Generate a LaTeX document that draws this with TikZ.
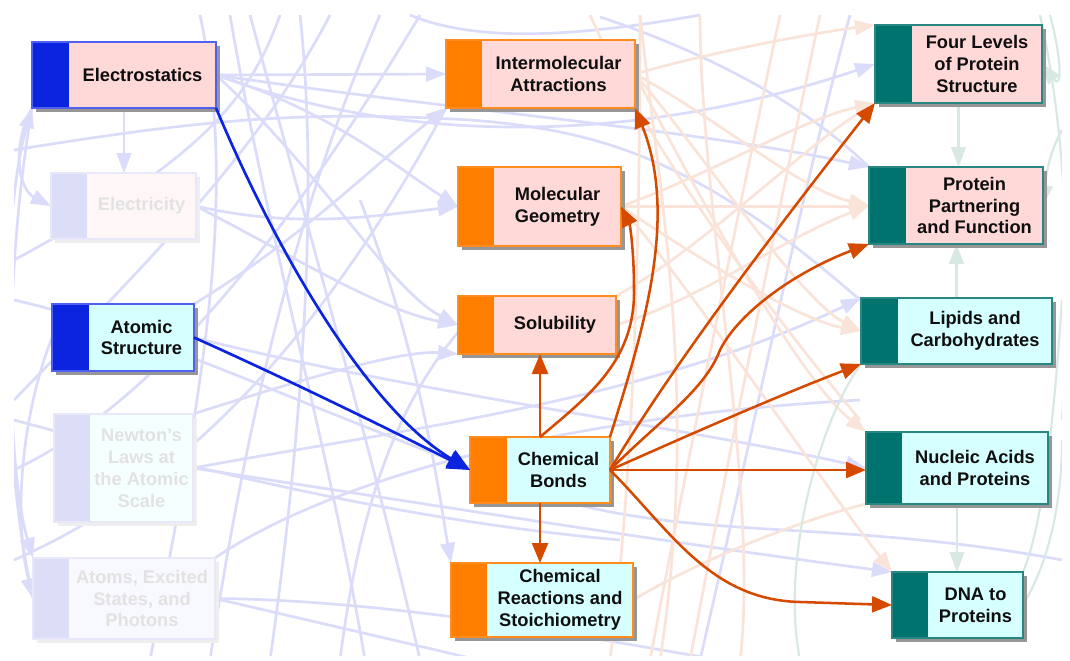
\documentclass[tikz,border=0pt]{standalone}
\usepackage{fontspec}
\setmainfont{Liberation Sans}
\usetikzlibrary{arrows.meta,shadows,fit}
\definecolor{barB}{RGB}{10,36,224}
\definecolor{bdB}{RGB}{80,96,240}
\definecolor{barO}{RGB}{255,126,0}
\definecolor{bdO}{RGB}{255,140,30}
\definecolor{barT}{RGB}{0,115,110}
\definecolor{bdT}{RGB}{40,135,130}
\definecolor{barF}{RGB}{220,222,248}
\definecolor{bdF}{RGB}{232,232,250}
\definecolor{txB}{RGB}{15,15,15}
\definecolor{txO}{RGB}{15,15,15}
\definecolor{txT}{RGB}{15,15,15}
\definecolor{txF}{RGB}{226,226,226}
\definecolor{shB}{RGB}{150,150,150}
\definecolor{shO}{RGB}{150,150,150}
\definecolor{shT}{RGB}{150,150,150}
\definecolor{shF}{RGB}{238,238,238}
\definecolor{pinkF}{RGB}{255,216,216}
\definecolor{cyanF}{RGB}{214,255,255}
\definecolor{fadeP}{RGB}{255,247,247}
\definecolor{fadeC}{RGB}{245,255,255}
\definecolor{fadeL}{RGB}{248,248,255}
\definecolor{blueA}{RGB}{10,36,224}
\definecolor{orA}{RGB}{214,74,0}
\definecolor{lavL}{RGB}{218,220,250}
\definecolor{peachL}{RGB}{250,228,218}
\definecolor{greenL}{RGB}{216,232,226}
\pgfdeclarelayer{bgwhite}
\pgfdeclarelayer{faded}
\pgfsetlayers{bgwhite,faded,main}
\tikzset{
  cbox/.style={inner sep=0pt, outer sep=0pt, draw=none,
    drop shadow={shadow xshift=3pt, shadow yshift=-3pt, fill=sh#1, opacity=1}},
  ctext/.style={font=\fontsize{13.7}{16.4}\selectfont\bfseries, align=center, inner sep=0pt},
  barrow/.style={draw=blueA, line width=2pt, -{Triangle[length=17pt,width=14pt]}},
  oarrow/.style={draw=orA, line width=1.9pt, -{Triangle[length=15pt,width=12pt]}},
  fl/.style={draw=lavL, line width=2pt},
  fla/.style={fl, -{Triangle[length=15pt,width=11pt]}},
  fp/.style={draw=peachL, line width=2pt},
  fpa/.style={fp, -{Triangle[length=15pt,width=11pt]}},
  fg/.style={draw=greenL, line width=1.6pt},
  fga/.style={fg, -{Triangle[length=15pt,width=11pt]}},
}
\newcommand\conceptbox[9]{%
  \node[cbox=#7, fill=#8, fit={(#2,#3)(#4,#5)}] (#1) {};
  \fill[bar#7] (#2,#3) rectangle (#6,#5);
  \draw[bd#7, line width=0.8pt] (#2,#3) rectangle (#4,#5);
  \node[ctext, text=tx#7] (#1-t) at ({(#6+#4)/2},{(#3+#5)/2}) {#9};
}
\begin{document}
\begin{tikzpicture}[x=0.75pt,y=-0.75pt]
\begin{pgfonlayer}{bgwhite}
\fill[white] (0,0) rectangle (1070,660);
\end{pgfonlayer}
\useasboundingbox (0,0) rectangle (1070,660);
% ---- concept boxes ----
\conceptbox{es}{32}{42}{216}{108}{69}{B}{pinkF}{Electrostatics}
\conceptbox{el}{51}{173}{196}{239}{87}{F}{fadeP}{Electricity}
\conceptbox{as}{52}{304}{194}{371}{89}{B}{cyanF}{Atomic\\Structure}
\conceptbox{nl}{54}{414}{193}{522}{90}{F}{fadeC}{Newton's\\Laws at\\the Atomic\\Scale}
\conceptbox{ae}{33}{558}{215}{639}{69}{F}{fadeL}{Atoms, Excited\\States, and\\Photons}
\conceptbox{ia}{446}{40}{635}{108}{482}{O}{pinkF}{Intermolecular\\Attractions}
\conceptbox{mg}{458}{167}{621}{246}{494}{O}{pinkF}{Molecular\\Geometry}
\conceptbox{so}{458}{296}{616}{354}{494}{O}{pinkF}{Solubility}
\conceptbox{cb}{470}{437}{610}{503}{507}{O}{cyanF}{Chemical\\Bonds}
\conceptbox{cr}{451}{563}{633}{637}{487}{O}{cyanF}{Chemical\\Reactions and\\Stoichiometry}
\conceptbox{fl}{875}{25}{1042}{103}{912}{T}{pinkF}{Four Levels\\of Protein\\Structure}
\conceptbox{pp}{869}{167}{1043}{244}{906}{T}{pinkF}{Protein\\Partnering\\and Function}
\conceptbox{lc}{861}{298}{1052}{364}{898}{T}{cyanF}{Lipids and\\Carbohydrates}
\conceptbox{na}{866}{432}{1048}{504}{902}{T}{cyanF}{Nucleic Acids\\and Proteins}
\conceptbox{dp}{892}{572}{1023}{638}{928}{T}{cyanF}{DNA to\\Proteins}
% ---- faded background connectors ----
\begin{pgfonlayer}{faded}
\begin{scope}
\clip (14,15) rectangle (1062,655);
% lavender
\draw[fla] (es.east) -- (ia.west);
\draw[fla] (es.east) .. controls (330,110) and (400,170) .. (mg.west);
\draw[fla] (es.east) .. controls (320,170) and (390,290) .. (so.west);
\draw[fla] (es.east) .. controls (420,150) and (650,140) .. (fl.west);
\draw[fla] (es.east) .. controls (450,110) and (700,130) .. (pp.north west);
\draw[fla] (es.south) -- (es.south |- el.north);
\draw[fla] (es.south west) .. controls (10,150) and (20,190) .. (el.west);
\draw[fla] (ae.west) .. controls (0,450) and (0,220) .. (es.south west);
\draw[fla] (es.south west) .. controls (0,300) and (10,480) .. (ae.north west);
\draw[fla] (as.west) .. controls (20,420) and (14,520) .. (ae.west);
\draw[fla] (el.east) .. controls (300,230) and (380,215) .. (mg.west);
\draw[fla] (el.east) .. controls (300,260) and (380,310) .. (so.west);
\draw[fla] (as.north east) .. controls (300,240) and (380,160) .. (ia.south west);
\draw[fla] (nl.east) .. controls (400,430) and (650,400) .. (lc.north west);
\draw[fla] (as.east) .. controls (400,390) and (700,430) .. (na.west);
\draw[fla] (nl.east) .. controls (400,500) and (650,540) .. (dp.north west);
\draw[fla] (360,200) .. controls (420,350) and (440,500) .. (cr.north west);
\draw[fla] (nl.north east) .. controls (300,380) and (400,350) .. (so.south west);
\draw[fl] (ae.east) .. controls (400,600) and (600,640) .. (720,660);
\draw[fl] (ae.east) .. controls (350,630) and (480,660) .. (520,670);
\draw[fl] (ae.north east) .. controls (300,500) and (500,420) .. (860,400);
\draw[fl] (230,15) .. controls (270,250) and (330,450) .. (365,660);
\draw[fl] (250,15) .. controls (300,200) and (380,480) .. (420,660);
\draw[fl] (280,15) .. controls (250,100) and (200,160) .. (14,260);
\draw[fl] (330,15) .. controls (260,150) and (150,260) .. (14,400);
\draw[fl] (380,15) .. controls (300,200) and (250,400) .. (210,660);
\draw[fl] (410,15) .. controls (470,40) and (560,40) .. (700,15);
\draw[fl] (300,15) .. controls (320,200) and (300,450) .. (270,660);
\draw[fl] (14,300) .. controls (150,330) and (330,420) .. (560,500) .. controls (700,540) and (850,520) .. (1062,560);
\draw[fl] (14,420) .. controls (200,470) and (400,520) .. (620,540);
\draw[fl] (600,17) .. controls (700,50) and (800,100) .. (pp.north west);
\draw[fl] (850,15) .. controls (800,200) and (760,400) .. (700,660);
\draw[fl] (14,150) .. controls (200,120) and (300,110) .. (470,120) .. controls (600,130) and (700,160) .. (860,300);
\draw[fl] (200,15) .. controls (240,200) and (200,400) .. (150,660);
\draw[fl] (14,470) .. controls (120,420) and (250,300) .. (420,15);
\draw[fl] (14,560) .. controls (150,500) and (300,380) .. (ia.south west);
\draw[fl] (340,660) .. controls (360,500) and (400,400) .. (460,330);
% peach
\draw[fpa] (ia.east) .. controls (700,55) and (800,35) .. (fl.north west);
\draw[fpa] (ia.east) .. controls (720,120) and (800,190) .. (pp.west);
\draw[fpa] (ia.east) .. controls (700,150) and (800,300) .. (lc.west);
\draw[fpa] (ia.east) .. controls (700,200) and (800,380) .. (na.north west);
\draw[fpa] (mg.east) -- (mg.east -| pp.west);
\draw[fpa] (mg.east) .. controls (720,170) and (800,120) .. (fl.south west);
\draw[fpa] (mg.east) .. controls (700,260) and (800,320) .. (lc.west);
\draw[fpa] (mg.east) .. controls (700,300) and (820,480) .. (dp.north west);
\draw[fpa] (so.east) .. controls (700,300) and (780,240) .. (pp.west);
\draw[fpa] (so.north east) .. controls (700,250) and (800,150) .. (fl.south west);
\draw[fp] (640,15) .. controls (660,200) and (700,400) .. (660,660);
\draw[fp] (610,660) .. controls (630,500) and (640,300) .. (640,15);
\draw[fp] (650,660) .. controls (680,500) and (720,300) .. (780,15);
\draw[fp] (690,660) .. controls (720,500) and (760,300) .. (820,15);
\draw[fp] (740,660) .. controls (760,500) and (700,200) .. (700,15);
\draw[fp] (cr.east) .. controls (700,560) and (800,520) .. (na.south west);
\draw[fp] (590,15) .. controls (650,150) and (760,300) .. (860,420);
% green
\draw[fga] (fl.south) -- (fl.south |- pp.north);
\draw[fga] (lc.north) -- (lc.north |- pp.south);
\draw[fga] (na.south) -- (na.south |- dp.north);
\draw[fg] (800,660) .. controls (780,560) and (820,420) .. (lc.south west);
\draw[fga] (1050,15) .. controls (1062,60) and (1062,90) .. (fl.east);
\draw[fga] (1062,130) .. controls (1045,160) and (1045,190) .. (pp.east);
\draw[fg] (1040,15) .. controls (1070,150) and (1070,300) .. (1062,420);
\draw[fg] (dp.east) .. controls (1050,560) and (1062,500) .. (1062,440);
\draw[fg] (dp.north east) .. controls (1045,520) and (1055,400) .. (1062,300);
\end{scope}
\end{pgfonlayer}
% ---- active connectors ----
\draw[barrow] (es.south east) .. controls (280,260) and (370,410) .. (cb.west);
\draw[barrow] (as.east) .. controls (300,385) and (400,435) .. (cb.west);
\draw[oarrow] (cb.north) -- (cb.north |- so.south);
\draw[oarrow] (cb.south) -- (cb.south |- cr.north);
\draw[oarrow] (cb.north) .. controls (590,395) and (635,360) .. (634,290) .. controls (634,250) and (630,225) .. (mg.east);
\draw[oarrow] (cb.north east) .. controls (640,340) and (680,220) .. (ia.south east);
\draw[oarrow] (cb.east) .. controls (670,370) and (760,250) .. (fl.south west);
\draw[oarrow] (cb.east) .. controls (660,420) and (705,390) .. (720,350) .. controls (740,310) and (800,270) .. (pp.south west);
\draw[oarrow] (cb.east) .. controls (700,430) and (780,395) .. (lc.south west);
\draw[oarrow] (cb.east) -- (cb.east -| na.west);
\draw[oarrow] (cb.east) .. controls (670,530) and (710,600) .. (800,602) -- (dp.west);
\end{tikzpicture}
\end{document}
